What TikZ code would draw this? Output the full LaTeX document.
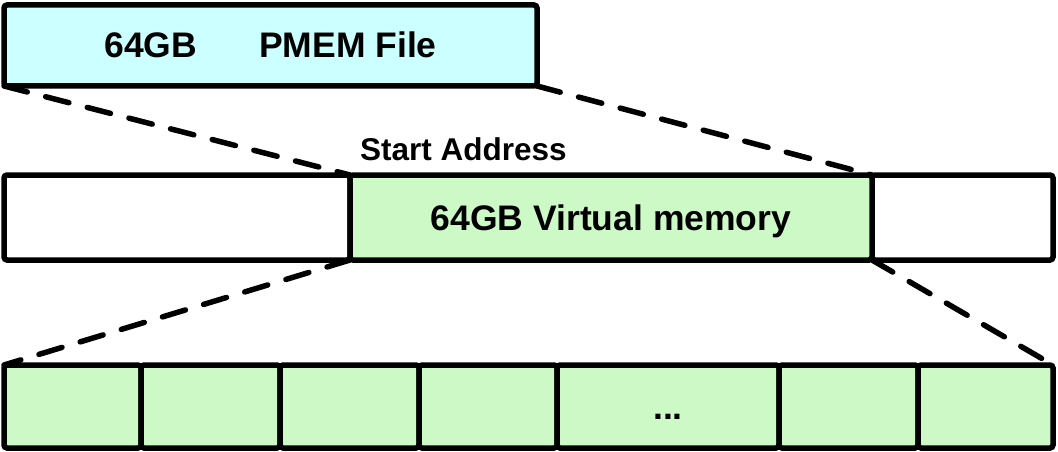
\documentclass[tikz,border=0pt]{standalone}
\usepackage{fontspec}
\setmainfont{Liberation Sans}
\usetikzlibrary{positioning}
\definecolor{pmemcyan}{HTML}{CCFFFF}
\definecolor{vmgreen}{HTML}{CCF9C6}
\tikzset{
  blk/.style={draw, line width=5.5pt, rounded corners=3pt, inner sep=0pt, outer sep=0pt,
    text height=25pt, text depth=0pt, font=\bfseries\fontsize{35.5}{35.5}\selectfont},
  cell/.style={blk, fill=vmgreen, minimum height=83pt},
  zoomline/.style={line width=5.5pt, line cap=round, dash pattern=on 24pt off 19pt},
}
\begin{document}
\begin{tikzpicture}[x=1pt,y=-1pt]
\useasboundingbox (0,0) rectangle (1058,452);
% file on top
\node[blk, fill=pmemcyan, minimum width=533pt, minimum height=81pt] (pmem) at (270.5,45.5) {64GB\hspace{62pt}PMEM File};
% virtual address space
\node[blk, fill=white, minimum width=346pt, minimum height=85pt] (lo) at (177,217.5) {};
\node[blk, fill=white, minimum width=181pt, minimum height=85pt] (hi) at (962.5,217.5) {};
\node[blk, fill=vmgreen, minimum width=522pt, minimum height=85pt] (vmem) at (611,217.5) {64GB Virtual memory};
\node[anchor=base west, inner sep=0pt, font=\bfseries\fontsize{31.5}{31.5}\selectfont] (start) at ([xshift=10pt,yshift=15pt]vmem.north west) {Start Address};
% pages
\node[cell, minimum width=137pt] (c1) at (72.5,406.5) {};
\node[cell, minimum width=139pt, right=0pt of c1] (c2) {};
\node[cell, minimum width=139pt, right=0pt of c2] (c3) {};
\node[cell, minimum width=138pt, right=0pt of c3] (c4) {};
\node[cell, minimum width=222pt, right=0pt of c4] (c5) {...};
\node[cell, minimum width=139pt, right=0pt of c5] (c6) {};
\node[cell, minimum width=135pt, right=0pt of c6] (c7) {};
% zoom lines
\draw[zoomline] (pmem.south west) -- (vmem.north west);
\draw[zoomline] (pmem.south east) -- (vmem.north east);
\draw[zoomline] (vmem.south west) -- (c1.north west);
\draw[zoomline] (vmem.south east) -- (c7.north east);
\end{tikzpicture}
\end{document}
